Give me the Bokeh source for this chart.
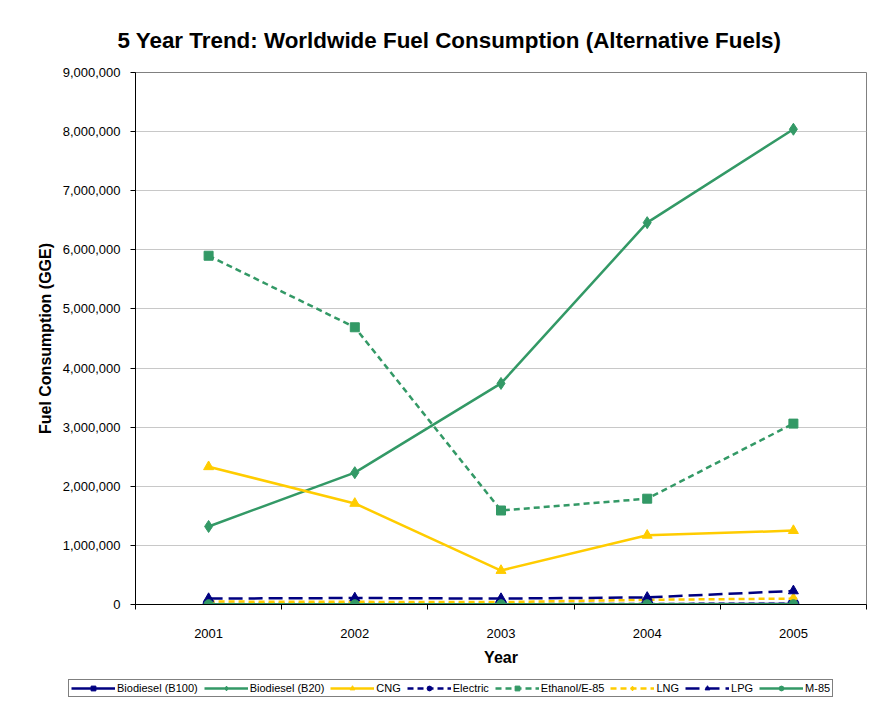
from bokeh.plotting import figure
from bokeh.layouts import column
from bokeh.models import (Range1d, FixedTicker, NumeralTickFormatter, Legend, LegendItem)
from bokeh.embed import file_html
from bokeh.resources import INLINE

# ---- data ----
years = [2001, 2002, 2003, 2004, 2005]
biodiesel_b100 = [3000, 4000, 2000, 5000, 8000]
biodiesel_b20 = [1320000, 2230000, 3740000, 6460000, 8040000]
cng = [2330000, 1710000, 575000, 1170000, 1250000]
electric = [10000, 12000, 9000, 10000, 12000]
ethanol_e85 = [5900000, 4690000, 1590000, 1790000, 3060000]
lng = [50000, 45000, 40000, 80000, 100000]
lpg = [100000, 110000, 100000, 120000, 230000]
m85 = [5000, 5000, 5000, 5000, 5000]
y_ticks = [0, 1000000, 2000000, 3000000, 4000000, 5000000, 6000000, 7000000, 8000000, 9000000]
x_boundaries = [2000.5, 2001.5, 2002.5, 2003.5, 2004.5, 2005.5]

NAVY = "#000080"
GREEN = "#339966"
YELLOW = "#FFCC00"
FONT = "Liberation Sans"

p = figure(width=869, height=678, output_backend="svg", toolbar_location=None,
           x_range=Range1d(2000.5, 2005.5), y_range=Range1d(0, 9000000),
           min_border_left=135, min_border_right=3, min_border_top=72, min_border_bottom=74,
           background_fill_color="white", border_fill_color="white")
p.frame_align = False

p.title.text = "5 Year Trend: Worldwide Fuel Consumption (Alternative Fuels)"
p.title.text_font = FONT
p.title.text_font_size = "22.4px"
p.title.text_font_style = "bold"
p.title.text_color = "black"
p.title.align = "left"
p.title.offset = -18
p.title.standoff = 40

p.outline_line_color = "#808080"
p.outline_line_width = 1

# axes
p.xaxis.ticker = FixedTicker(ticks=years, minor_ticks=x_boundaries)
p.xaxis.major_tick_out = 0
p.xaxis.major_tick_in = 0
p.xaxis.minor_tick_out = 5
p.xaxis.minor_tick_in = 0
p.xaxis.minor_tick_line_color = "black"
p.xaxis.axis_label = "Year"
p.yaxis.ticker = FixedTicker(ticks=y_ticks)
p.yaxis.formatter = NumeralTickFormatter(format="0,0")
p.yaxis.major_tick_out = 5
p.yaxis.major_tick_in = 0
p.yaxis.minor_tick_line_color = None
p.yaxis.axis_label = "Fuel Consumption (GGE)"
for ax in (p.xaxis, p.yaxis):
    ax.axis_line_color = "black"
    ax.axis_line_width = 1
    ax.major_tick_line_color = "black"
    ax.major_label_text_font = FONT
    ax.major_label_text_font_size = "13px"
    ax.major_label_text_color = "black"
    ax.axis_label_text_font = FONT
    ax.axis_label_text_font_size = "16px"
    ax.axis_label_text_font_style = "bold"
    ax.axis_label_text_color = "black"
p.yaxis.major_label_standoff = 10
p.xaxis.major_label_standoff = 19
p.yaxis.axis_label_standoff = 6
p.xaxis.axis_label_standoff = 8

p.xgrid.grid_line_color = None
p.ygrid.grid_line_color = "#c8c8c8"
p.ygrid.grid_line_width = 1

series = [
    ("Biodiesel (B100)", biodiesel_b100, NAVY, "solid", "square", 8),
    ("Biodiesel (B20)", biodiesel_b20, GREEN, "solid", "diamond", 12),
    ("CNG", cng, YELLOW, "solid", "triangle", 10),
    ("Electric", electric, NAVY, "6 4", "circle", 11),
    ("Ethanol/E-85", ethanol_e85, GREEN, "6 4", "square", 9),
    ("LNG", lng, YELLOW, "6 4", "diamond", 11),
    ("LPG", lpg, NAVY, "14 6", "triangle", 10),
    ("M-85", m85, GREEN, "solid", "circle", 9),
]

# legend strip below the chart (its own small canvas so it is not clipped)
pl = figure(width=869, height=20, output_backend="svg", toolbar_location=None,
            x_range=Range1d(0, 1), y_range=Range1d(0, 1),
            x_axis_type=None, y_axis_type=None,
            min_border_left=0, min_border_right=0, min_border_top=0, min_border_bottom=0,
            background_fill_color="white", border_fill_color="white")
pl.frame_align = False
pl.outline_line_color = None
pl.xgrid.visible = False
pl.ygrid.visible = False

items = []
for label, vals, color, dash, marker, size in series:
    p.line(years, vals, line_color=color, line_width=2.5, line_dash=dash)
    p.scatter(years, vals, marker=marker, size=size, fill_color=color,
              line_color=color, line_width=1)
    # same series on the legend strip (outside its visible range), used for the key glyphs
    l1 = pl.line(years, vals, line_color=color, line_width=2.5, line_dash=dash)
    l2 = pl.scatter(years, vals, marker=marker, size=size, fill_color=color,
                    line_color=color, line_width=1)
    items.append(LegendItem(label=label, renderers=[l1, l2]))

legend = Legend(items=items, orientation="horizontal", location=(68, 1))
legend.label_text_font = FONT
legend.label_text_font_size = "11px"
legend.label_text_color = "black"
legend.glyph_width = 44
legend.glyph_height = 12
legend.label_height = 12
legend.label_standoff = 2
legend.spacing = 6
legend.padding = 2
legend.margin = 0
legend.border_line_color = "black"
legend.border_line_width = 1
legend.background_fill_color = "white"
legend.background_fill_alpha = 1
pl.add_layout(legend)

layout = column(p, pl, spacing=0)
open("out.html", "w").write(file_html(layout, INLINE))
